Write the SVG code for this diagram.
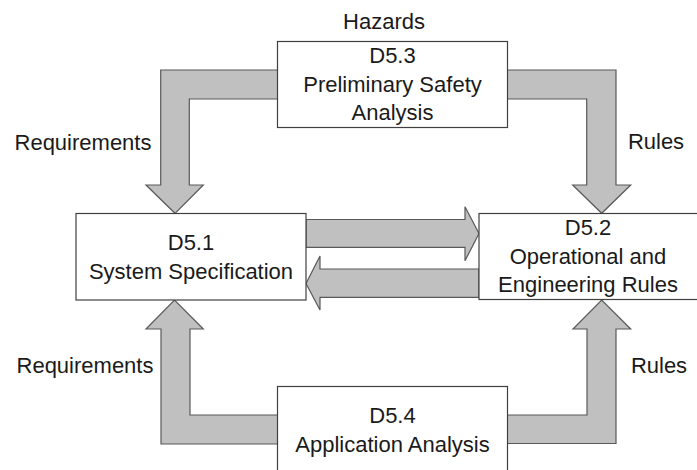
<svg xmlns="http://www.w3.org/2000/svg" width="697" height="470" viewBox="0 0 697 470">
  <style>
    .box { fill: #ffffff; stroke: #404040; stroke-width: 1.2; }
    .arrow { fill: #c0c0c0; stroke: #595959; stroke-width: 1.2; stroke-linejoin: miter; }
    text { font-family: "Liberation Sans", Arial, sans-serif; font-size: 22px; fill: #1a1a1a; text-anchor: middle; }
  </style>
  <rect width="697" height="470" fill="#ffffff"/>
  <g id="connectors">
    <polygon class="arrow" points="278,70 160.7,70 160.7,185 146,185 175,213.3 203.3,185 189.3,185 189.3,99 278,99"/>
    <polygon class="arrow" points="507,70 616,70 616,185 630.7,185 601.7,213.3 572.7,185 586.7,185 586.7,99 507,99"/>
    <polygon class="arrow" points="278,444 161,444 161,329 146,329 174.5,300 203.3,329 190,329 190,415 278,415"/>
    <polygon class="arrow" points="507,443.5 616,443.5 616,329 630.7,329 601.7,300 573,329 587,329 587,415 507,415"/>
    <polygon class="arrow" points="306,219.5 465,219.5 465,206.7 479,233.5 465,260.7 465,247.3 306,247.3"/>
    <polygon class="arrow" points="479,269 320,269 320,256 306,283.5 320,310 320,297.3 479,297.3"/>
    <text x="83" y="150">Requirements</text>
    <text x="656" y="149">Rules</text>
    <text x="85" y="373">Requirements</text>
    <text x="659" y="373">Rules</text>
    <text x="384" y="29">Hazards</text>
  </g>
  <g id="d53">
    <rect class="box" x="277.5" y="41.5" width="230" height="86"/>
    <text x="392.5" y="63">D5.3</text>
    <text x="392.5" y="92">Preliminary Safety</text>
    <text x="392.5" y="120">Analysis</text>
  </g>
  <g id="d51">
    <rect class="box" x="76" y="213.5" width="230" height="86.5"/>
    <text x="191" y="250">D5.1</text>
    <text x="191" y="279">System Specification</text>
  </g>
  <g id="d52">
    <rect class="box" x="479" y="213.5" width="222" height="86"/>
    <text x="588" y="235">D5.2</text>
    <text x="588" y="263.5">Operational and</text>
    <text x="588" y="292">Engineering Rules</text>
  </g>
  <g id="d54">
    <rect class="box" x="277.5" y="386.5" width="230" height="90"/>
    <text x="392.5" y="423">D5.4</text>
    <text x="392.5" y="452">Application Analysis</text>
  </g>
</svg>
